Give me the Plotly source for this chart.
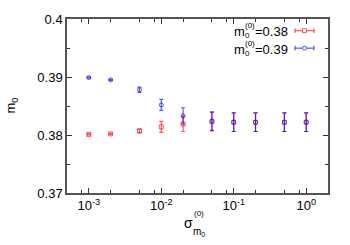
import plotly.graph_objects as go

sigma = [1e-3, 2e-3, 5e-3, 1e-2, 2e-2, 5e-2, 0.1, 0.2, 0.5, 1.0]
m038 = [0.3801, 0.3802, 0.3807, 0.3814, 0.3819, 0.3823, 0.3822, 0.3822, 0.3822, 0.3822]
err038 = [0.0001, 0.0001, 0.0003, 0.00095, 0.0013, 0.0016, 0.0016, 0.0016, 0.0016, 0.0016]
m039 = [0.3899, 0.3895, 0.3878, 0.3852, 0.3833, 0.3824, 0.3822, 0.3822, 0.3822, 0.3822]
err039 = [0.0001, 0.0001, 0.00045, 0.00095, 0.0014, 0.0016, 0.0016, 0.0016, 0.0016, 0.0016]

xtick_vals = [1e-3, 1e-2, 1e-1, 1]
xtick_text = ["10<sup>-3</sup>", "10<sup>-2</sup>", "10<sup>-1</sup>", "10<sup>0</sup>"]
xminor_vals = [8e-4, 2e-3, 5e-3, 8e-3, 2e-2, 5e-2, 8e-2, 0.2, 0.5, 0.8]
ytick_vals = [0.37, 0.38, 0.39, 0.4]
ytick_text = ["0.37", "0.38", "0.39", "0.4"]

RED = "rgba(255,0,0,0.65)"
BLUE = "rgba(0,0,255,0.65)"
FONT = "Liberation Sans, Arial, sans-serif"

W, H = 350, 245
L, R, T, B = 67, 328, 14, 193


def px(x):
    return (x - L) / (R - L)


def py(y):
    return (B - y) / (B - T)


fig = go.Figure()
fig.add_trace(go.Scatter(
    x=sigma, y=m038, mode="markers", name="m0=0.38",
    marker=dict(symbol="square-open", size=4, color=RED, line=dict(width=1, color=RED)),
    error_y=dict(type="data", array=err038, visible=True, color=RED, thickness=1.2, width=2),
))
fig.add_trace(go.Scatter(
    x=sigma, y=m039, mode="markers", name="m0=0.39",
    marker=dict(symbol="circle-open", size=4, color=BLUE, line=dict(width=1, color=BLUE)),
    error_y=dict(type="data", array=err039, visible=True, color=BLUE, thickness=1.2, width=2),
))

axis_common = dict(
    showline=True, linecolor="#555", linewidth=1.5, mirror="ticks",
    ticks="inside", ticklen=5, tickcolor="#333", tickwidth=1,
    showgrid=False, zeroline=False,
    tickfont=dict(family=FONT, size=13, color="black"),
)

fig.update_xaxes(
    type="log", range=[-3.301, 0.301],
    tickmode="array", tickvals=xtick_vals, ticktext=xtick_text,
    minor=dict(tickmode="array", tickvals=xminor_vals, ticks="inside", ticklen=3,
               tickcolor="#333", showgrid=False),
    **axis_common,
)
fig.update_yaxes(
    range=[0.37, 0.4],
    tickmode="array", tickvals=ytick_vals, ticktext=ytick_text,
    minor=dict(dtick=0.005, ticks="inside", ticklen=3, tickcolor="#333", showgrid=False),
    **axis_common,
)

ann = []
shapes = []


def text(x, y, t, size=13, xanchor="center", angle=0):
    ann.append(dict(x=px(x), y=py(y), xref="paper", yref="paper", text=t, showarrow=False,
                    xanchor=xanchor, yanchor="middle", textangle=angle, borderpad=0,
                    font=dict(family=FONT, size=size, color="black")))


# axis titles
text(12, 103, "m<sub>0</sub>", size=13, angle=-90)
text(188, 224, "σ", size=14)
text(193, 214, "(0)", size=8, xanchor="left")
text(192, 233, "m<sub>0</sub>", size=10, xanchor="left")

# legend
for (yy, label, col, sym) in [(26, "=0.38", RED, "square"), (44, "=0.39", BLUE, "circle")]:
    text(232.5, yy + 1, "m", size=13, xanchor="left")
    text(244, yy - 5, "(0)", size=8, xanchor="left")
    text(244, yy + 5, "0", size=8, xanchor="left")
    text(289, yy + 1, label, size=13, xanchor="right")
    shapes.append(dict(type="line", xref="paper", yref="paper", x0=px(295), x1=px(314),
                       y0=py(yy), y1=py(yy), line=dict(color=col, width=1.2)))
    for xe in (295, 314):
        shapes.append(dict(type="line", xref="paper", yref="paper", x0=px(xe), x1=px(xe),
                           y0=py(yy - 2.5), y1=py(yy + 2.5), line=dict(color=col, width=1.2)))
    shapes.append(dict(type="rect" if sym == "square" else "circle", xref="paper", yref="paper",
                       x0=px(302.5), x1=px(306.5), y0=py(yy - 2), y1=py(yy + 2),
                       line=dict(color=col, width=1), fillcolor="white"))

fig.update_layout(
    width=W, height=H,
    margin=dict(l=L, r=W - R, t=T, b=H - B),
    paper_bgcolor="white", plot_bgcolor="white",
    showlegend=False,
    annotations=ann, shapes=shapes,
    font=dict(family=FONT, size=13, color="black"),
)

fig.write_html("out.html", config={"displayModeBar": False},
               post_script="document.body.style.margin='0';")
